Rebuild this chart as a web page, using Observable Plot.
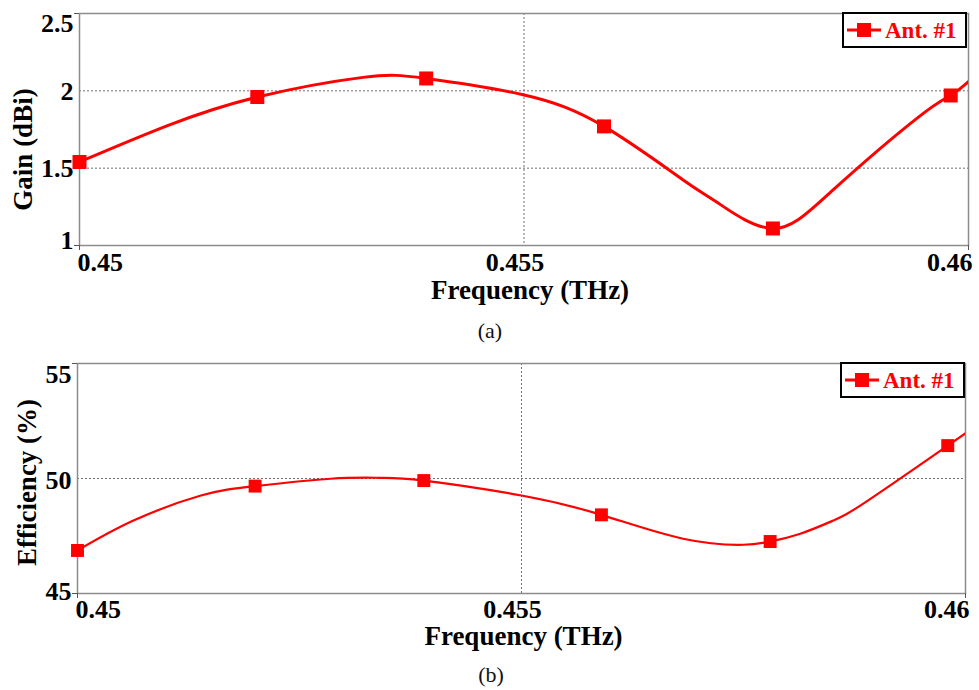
<!DOCTYPE html>
<html>
<head>
<meta charset="utf-8">
<script src="https://cdn.jsdelivr.net/npm/d3@7"></script>
<script src="https://cdn.jsdelivr.net/npm/@observablehq/plot@0.6"></script>
<style>
  html, body { margin: 0; padding: 0; background: #fff; }
  #wrap { position: relative; width: 979px; height: 690px; overflow: hidden; font-family: "Liberation Serif", "Times New Roman", serif; }
  #wrap svg text { font-family: "Liberation Serif", "Times New Roman", serif !important; }
  .abs { position: absolute; }
  .cap { position: absolute; width: 60px; text-align: center; font-size: 22px; color: #111; line-height: 1; }
  .legend { position: absolute; box-sizing: border-box; border: 2px solid #000; background: #fff; display: flex; align-items: center; }
  .legend span { color: #ff0000; font-weight: bold; font-size: 23px; margin-left: 4px; line-height: 1; }
</style>
</head>
<body>
<div id="wrap"></div>
<script>
// ---------- data ----------
// marker positions
const freq = [0.45, 0.452, 0.4539, 0.4559, 0.4578, 0.4598];        // THz
const gain = [1.54, 1.96, 2.08, 1.77, 1.11, 1.97];                   // dBi
const efficiency = [46.87, 49.67, 49.91, 48.42, 47.26, 51.43];       // %

// simulated curves (samples)
const gainCurveF = [0.45, 0.45099, 0.452, 0.45319, 0.4539, 0.45499, 0.4559, 0.45679, 0.45718, 0.4578, 0.45848, 0.45943, 0.4598, 0.46];
const gainCurveV = [1.54, 1.775, 1.96, 2.087, 2.08, 1.975, 1.77, 1.424, 1.276, 1.11, 1.361, 1.827, 1.97, 2.06];
const effCurveF = [0.45, 0.45063, 0.45139, 0.452, 0.45285, 0.45341, 0.4539, 0.455, 0.4559, 0.45682, 0.4575, 0.4578, 0.45814, 0.45851, 0.4589, 0.4598, 0.46];
const effCurveV = [46.87, 48.17, 49.26, 49.67, 49.99, 50.03, 49.91, 49.26, 48.42, 47.38, 47.12, 47.26, 47.6, 48.17, 49.04, 51.43, 51.97];

const xTicks = [0.45, 0.455, 0.46];
const xTickLabels = ["0.45", "0.455", "0.46"];
const gainTicks = [1, 1.5, 2, 2.5];
const gainTickLabels = ["1", "1.5", "2", "2.5"];
const effTicks = [45, 50, 55];
const effTickLabels = ["45", "50", "55"];
const gainGrid = [1.5, 2];
const effGrid = [50];
const xGrid = [0.455];

const xLabel = "Frequency (THz)";
const gainLabel = "Gain (dBi)";
const effLabel = "Efficiency (%)";
const seriesName = "Ant. #1";
const captions = ["(a)", "(b)"];

const FONT = '"Liberation Serif", "Times New Roman", serif';
const RED = "#ff0000";

function panel({values, curveF, curveV, yTicks, yTickLabels, yGrid, yLabel, height, mL, mR, mT, mB,
                yLabelDx, yLabelDy, xLabelDx, xLabelDy, tickDy, lineW, markR, topDy, botDy, midDy}) {
  const pts = freq.map((f, i) => ({f, v: values[i]}));
  const curvePts = curveF.map((f, i) => ({f, v: curveV[i]}));
  const yDom = [yTicks[0], yTicks[yTicks.length - 1]];
  const tickTxt = (t, arr, labels) => labels[arr.indexOf(t)];
  const tickFont = {fontFamily: FONT, fontWeight: "bold", fontSize: 26, fill: "#000"};
  return Plot.plot({
    width: 979, height,
    marginLeft: mL, marginRight: mR, marginTop: mT, marginBottom: mB,
    style: {background: "transparent", fontFamily: FONT, overflow: "visible"},
    x: {domain: [xTicks[0], xTicks[xTicks.length - 1]], label: null},
    y: {domain: yDom, label: null},
    marks: [
      Plot.ruleY(yGrid, {stroke: "#6e6e6e", strokeWidth: 1, strokeDasharray: "2,2"}),
      Plot.ruleX(xGrid, {stroke: "#6e6e6e", strokeWidth: 1, strokeDasharray: "2,2"}),
      Plot.frame({stroke: "#8c8c8c", strokeWidth: 1.5}),
      Plot.axisX([xTicks[0], xTicks[xTicks.length - 1]], {tickSize: 5, stroke: "#555", tickFormat: () => "", label: null}),
      Plot.axisY([yDom[0], yDom[1]], {tickSize: 5, stroke: "#555", tickFormat: () => "", label: null}),
      // x tick labels
      Plot.text(xTicks.slice(0, 1), {x: d => d, text: d => tickTxt(d, xTicks, xTickLabels), frameAnchor: "bottom", dy: tickDy, dx: -2, textAnchor: "start", lineAnchor: "middle", ...tickFont}),
      Plot.text(xTicks.slice(1, -1), {x: d => d, text: d => tickTxt(d, xTicks, xTickLabels), frameAnchor: "bottom", dy: tickDy, dx: -9, textAnchor: "middle", lineAnchor: "middle", ...tickFont}),
      Plot.text(xTicks.slice(-1), {x: d => d, text: d => tickTxt(d, xTicks, xTickLabels), frameAnchor: "bottom", dy: tickDy, dx: 4, textAnchor: "end", lineAnchor: "middle", ...tickFont}),
      // y tick labels
      Plot.text(yTicks.slice(0, 1), {y: d => d, text: d => tickTxt(d, yTicks, yTickLabels), frameAnchor: "left", dx: -6, dy: botDy, textAnchor: "end", lineAnchor: "middle", ...tickFont}),
      Plot.text(yTicks.slice(1, -1), {y: d => d, text: d => tickTxt(d, yTicks, yTickLabels), frameAnchor: "left", dx: -6, dy: midDy, textAnchor: "end", lineAnchor: "middle", ...tickFont}),
      Plot.text(yTicks.slice(-1), {y: d => d, text: d => tickTxt(d, yTicks, yTickLabels), frameAnchor: "left", dx: -6, dy: topDy, textAnchor: "end", lineAnchor: "middle", ...tickFont}),
      // axis labels
      Plot.text([xLabel], {text: d => d, frameAnchor: "bottom", dx: xLabelDx, dy: xLabelDy, textAnchor: "middle", lineAnchor: "middle", fontFamily: FONT, fontWeight: "bold", fontSize: 27, fill: "#000"}),
      Plot.text([yLabel], {text: d => d, frameAnchor: "left", dx: yLabelDx, dy: yLabelDy, rotate: -90, textAnchor: "middle", lineAnchor: "middle", fontFamily: FONT, fontWeight: "bold", fontSize: 27, fill: "#000"}),
      // data
      Plot.line(curvePts, {x: "f", y: "v", curve: "natural", stroke: RED, strokeWidth: lineW, clip: true}),
      Plot.dot(pts, {x: "f", y: "v", symbol: "square", r: markR, fill: RED, stroke: "none"})
    ]
  });
}

const wrap = document.getElementById("wrap");

const svgA = panel({values: gain, curveF: gainCurveF, curveV: gainCurveV, yTicks: gainTicks, yTickLabels: gainTickLabels, yGrid: gainGrid, yLabel: gainLabel,
  height: 310, mL: 79, mR: 11, mT: 13, mB: 65, yLabelDx: -56, yLabelDy: 20, xLabelDx: 6, xLabelDy: 45, tickDy: 17, lineW: 3, markR: 7.9,
  topDy: 10, botDy: -5, midDy: 1});
svgA.classList.add("abs"); svgA.style.left = "0px"; svgA.style.top = "0px";
wrap.appendChild(svgA);

const svgB = panel({values: efficiency, curveF: effCurveF, curveV: effCurveV, yTicks: effTicks, yTickLabels: effTickLabels, yGrid: effGrid, yLabel: effLabel,
  height: 320, mL: 77, mR: 14, mT: 23, mB: 67, yLabelDx: -50, yLabelDy: 4, xLabelDx: 2, xLabelDy: 43, tickDy: 16, lineW: 2.2, markR: 7.3,
  topDy: 11, botDy: -2, midDy: 2});
svgB.classList.add("abs"); svgB.style.left = "0px"; svgB.style.top = "340px";
wrap.appendChild(svgB);

function caption(txt, cx, cy) {
  const d = document.createElement("div");
  d.className = "cap"; d.textContent = txt;
  d.style.left = (cx - 30) + "px"; d.style.top = (cy - 11) + "px";
  wrap.appendChild(d);
}
caption(captions[0], 490, 331);
caption(captions[1], 491, 675);

function legend(left, top) {
  const d = document.createElement("div");
  d.className = "legend";
  d.style.left = left + "px"; d.style.top = top + "px";
  d.style.width = "125px"; d.style.height = "36px";
  d.style.paddingLeft = "3px";
  const ns = "http://www.w3.org/2000/svg";
  const s = document.createElementNS(ns, "svg");
  s.setAttribute("width", "34"); s.setAttribute("height", "16");
  const l = document.createElementNS(ns, "line");
  l.setAttribute("x1", "0"); l.setAttribute("x2", "34"); l.setAttribute("y1", "8"); l.setAttribute("y2", "8");
  l.setAttribute("stroke", RED); l.setAttribute("stroke-width", "3");
  const r = document.createElementNS(ns, "rect");
  r.setAttribute("x", "10"); r.setAttribute("y", "1"); r.setAttribute("width", "14"); r.setAttribute("height", "14");
  r.setAttribute("fill", RED);
  s.appendChild(l); s.appendChild(r);
  const t = document.createElement("span"); t.textContent = seriesName;
  d.appendChild(s); d.appendChild(t);
  wrap.appendChild(d);
}
legend(842, 12);
legend(840, 362);
</script>
</body>
</html>
